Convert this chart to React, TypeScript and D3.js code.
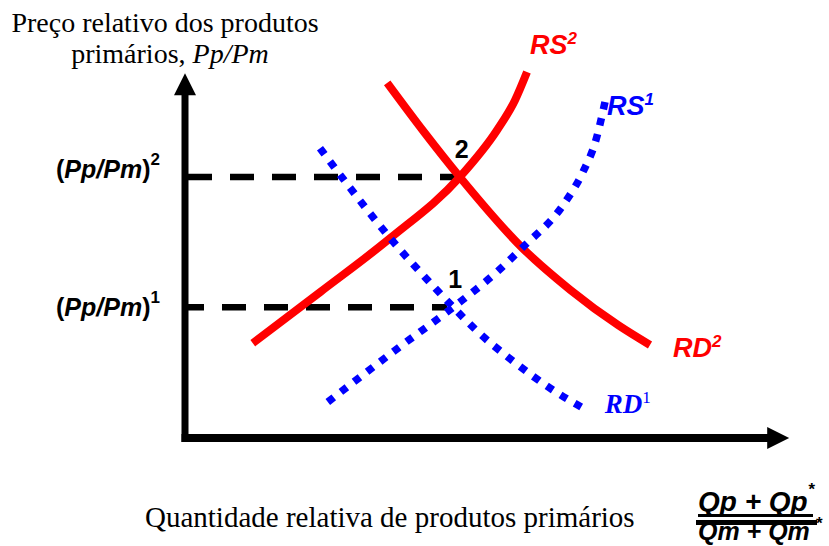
import * as d3 from "d3";

// curve points, in chart units (x: quantity, y: price)
const rs1: [number, number][] = [
  [23.8, 6], [35.8, 15.2], [44.7, 21.8], [52, 27.7], [56.2, 31.7],
  [63, 38.8], [66.3, 44.3], [68.5, 49.7], [70, 56],
];
const rd1: [number, number][] = [
  [22.5, 48.3], [27.5, 41.7], [34.2, 33.3], [41.2, 25.5], [44.7, 21.8],
  [48.7, 17.8], [54.7, 12.8], [61.3, 8], [66.3, 5],
];
const rs2: [number, number][] = [
  [11.3, 15.8], [22.5, 24.3], [34.2, 33.3], [45.8, 43.5], [52, 51.3],
  [55, 56.3], [57, 61],
];
const rd2: [number, number][] = [
  [33.7, 59.2], [40, 50.8], [45.8, 43.5], [56.2, 31.7], [64.2, 24.7],
  [72.2, 18.8], [77.5, 15.5],
];
// equilibria 1 and 2
const equilibria = [
  { label: "1", x: 44.7, y: 21.8 },
  { label: "2", x: 45.8, y: 43.5 },
];
const xMax = 100.7;
const yMax = 60.8;

const width = 829;
const height = 546;
const serif = "'Liberation Serif', 'Times New Roman', serif";
const sans = "'Liberation Sans', Arial, sans-serif";
const RED = "#ff0000";
const BLUE = "#0000ff";

export default function App() {
  const x = d3.scaleLinear().domain([0, 100]).range([185, 785]);
  const y = d3.scaleLinear().domain([0, 60]).range([438, 78]);
  const line = d3
    .line<[number, number]>()
    .x((d) => x(d[0]))
    .y((d) => y(d[1]))
    .curve(d3.curveMonotoneX);

  const x0 = x(0);
  const y0 = y(0);
  const xTip = x(xMax);
  const yTip = y(yMax);
  const head = 22;
  const half = 11;

  const end = (pts: [number, number][]) => {
    const p = pts[pts.length - 1];
    return [x(p[0]), y(p[1])];
  };
  const [rs2x, rs2y] = end(rs2);
  const [rs1x, rs1y] = end(rs1);
  const [rd2x, rd2y] = end(rd2);
  const [rd1x, rd1y] = end(rd1);

  const e1 = equilibria[0];
  const e2 = equilibria[1];

  return (
    <svg
      width={width}
      height={height}
      style={{ position: "absolute", left: 0, top: 0, background: "#fff" }}
    >
      {/* dashed guide lines */}
      <line
        x1={x0}
        x2={x(e2.x)}
        y1={y(e2.y)}
        y2={y(e2.y)}
        stroke="#000"
        strokeWidth={6.5}
        strokeDasharray="24 18"
        strokeDashoffset={39}
      />
      <line
        x1={x0}
        x2={x(e1.x) - 6}
        y1={y(e1.y)}
        y2={y(e1.y)}
        stroke="#000"
        strokeWidth={6.5}
        strokeDasharray="24 18"
        strokeDashoffset={5}
      />

      {/* axes */}
      <line x1={x0} x2={x0} y1={y0 + 4} y2={yTip + head - 2} stroke="#000" strokeWidth={7} />
      <line x1={x0 - 3.5} x2={xTip - head + 2} y1={y0} y2={y0} stroke="#000" strokeWidth={8} />
      <path
        d={`M${x0},${yTip}L${x0 - half},${yTip + head}L${x0 + half},${yTip + head}Z`}
        fill="#000"
      />
      <path
        d={`M${xTip},${y0}L${xTip - head},${y0 - half}L${xTip - head},${y0 + half}Z`}
        fill="#000"
      />

      {/* red curves */}
      <path d={line(rs2) ?? ""} fill="none" stroke={RED} strokeWidth={8} />
      <path d={line(rd2) ?? ""} fill="none" stroke={RED} strokeWidth={8} />

      {/* blue dotted curves */}
      <path
        d={line(rs1) ?? ""}
        fill="none"
        stroke={BLUE}
        strokeWidth={7.5}
        strokeDasharray="7.5 9"
      />
      <path
        d={line(rd1) ?? ""}
        fill="none"
        stroke={BLUE}
        strokeWidth={7.5}
        strokeDasharray="7.5 9"
      />

      {/* equilibrium numbers */}
      {equilibria.map((e) => (
        <text
          key={e.label}
          x={x(e.x) - 5}
          y={y(e.y) - 19}
          fontFamily={sans}
          fontWeight="bold"
          fontSize={25}
        >
          {e.label}
        </text>
      ))}

      {/* curve labels */}
      <text x={rs2x + 3} y={rs2y - 18} fontFamily={sans} fontWeight="bold" fontStyle="italic" fontSize={27} fill={RED}>
        RS<tspan fontSize={17} dy={-10}>2</tspan>
      </text>
      <text x={rs1x + 2} y={rs1y + 13} fontFamily={sans} fontWeight="bold" fontStyle="italic" fontSize={27} fill={BLUE}>
        RS<tspan fontSize={17} dy={-10}>1</tspan>
      </text>
      <text x={rd2x + 23} y={rd2y + 12} fontFamily={sans} fontWeight="bold" fontStyle="italic" fontSize={27} fill={RED}>
        RD<tspan fontSize={17} dy={-10}>2</tspan>
      </text>
      <text x={rd1x + 22} y={rd1y + 5} fontFamily={serif} fontWeight="bold" fontStyle="italic" fontSize={27} fill={BLUE}>
        RD<tspan fontSize={17} dy={-10} fontStyle="normal" fontWeight="normal">1</tspan>
      </text>

      {/* y tick labels */}
      <text x={56} y={y(e2.y) + 1} fontFamily={sans} fontWeight="bold" fontSize={25}>
        (<tspan fontStyle="italic">Pp/Pm</tspan>)<tspan fontSize={17} dy={-13}>2</tspan>
      </text>
      <text x={56} y={y(e1.y) + 9} fontFamily={sans} fontWeight="bold" fontSize={25}>
        (<tspan fontStyle="italic">Pp/Pm</tspan>)<tspan fontSize={17} dy={-13}>1</tspan>
      </text>

      {/* axis titles */}
      <text x={165} y={32} textAnchor="middle" fontFamily={serif} fontSize={28}>
        Preço relativo dos produtos
      </text>
      <text x={170} y={63} textAnchor="middle" fontFamily={serif} fontSize={28}>
        primários, <tspan fontStyle="italic">Pp/Pm</tspan>
      </text>
      <text x={145} y={527} fontFamily={serif} fontSize={29}>
        Quantidade relativa de produtos primários
      </text>

      {/* fraction */}
      <text x={698} y={511} fontFamily={sans} fontWeight="bold" fontStyle="italic" fontSize={28}>
        Qp + Qp<tspan fontSize={17} dy={-16}>*</tspan>
      </text>
      <rect x={698} y={514} width={115} height={3} fill="#000" />
      <rect x={696} y={520} width={121} height={5} fill="#000" />
      <text x={698} y={540} fontFamily={sans} fontWeight="bold" fontStyle="italic" fontSize={25}>
        Qm + Qm
      </text>
      <text x={816} y={529} fontFamily={sans} fontWeight="bold" fontSize={17}>
        *
      </text>
    </svg>
  );
}
